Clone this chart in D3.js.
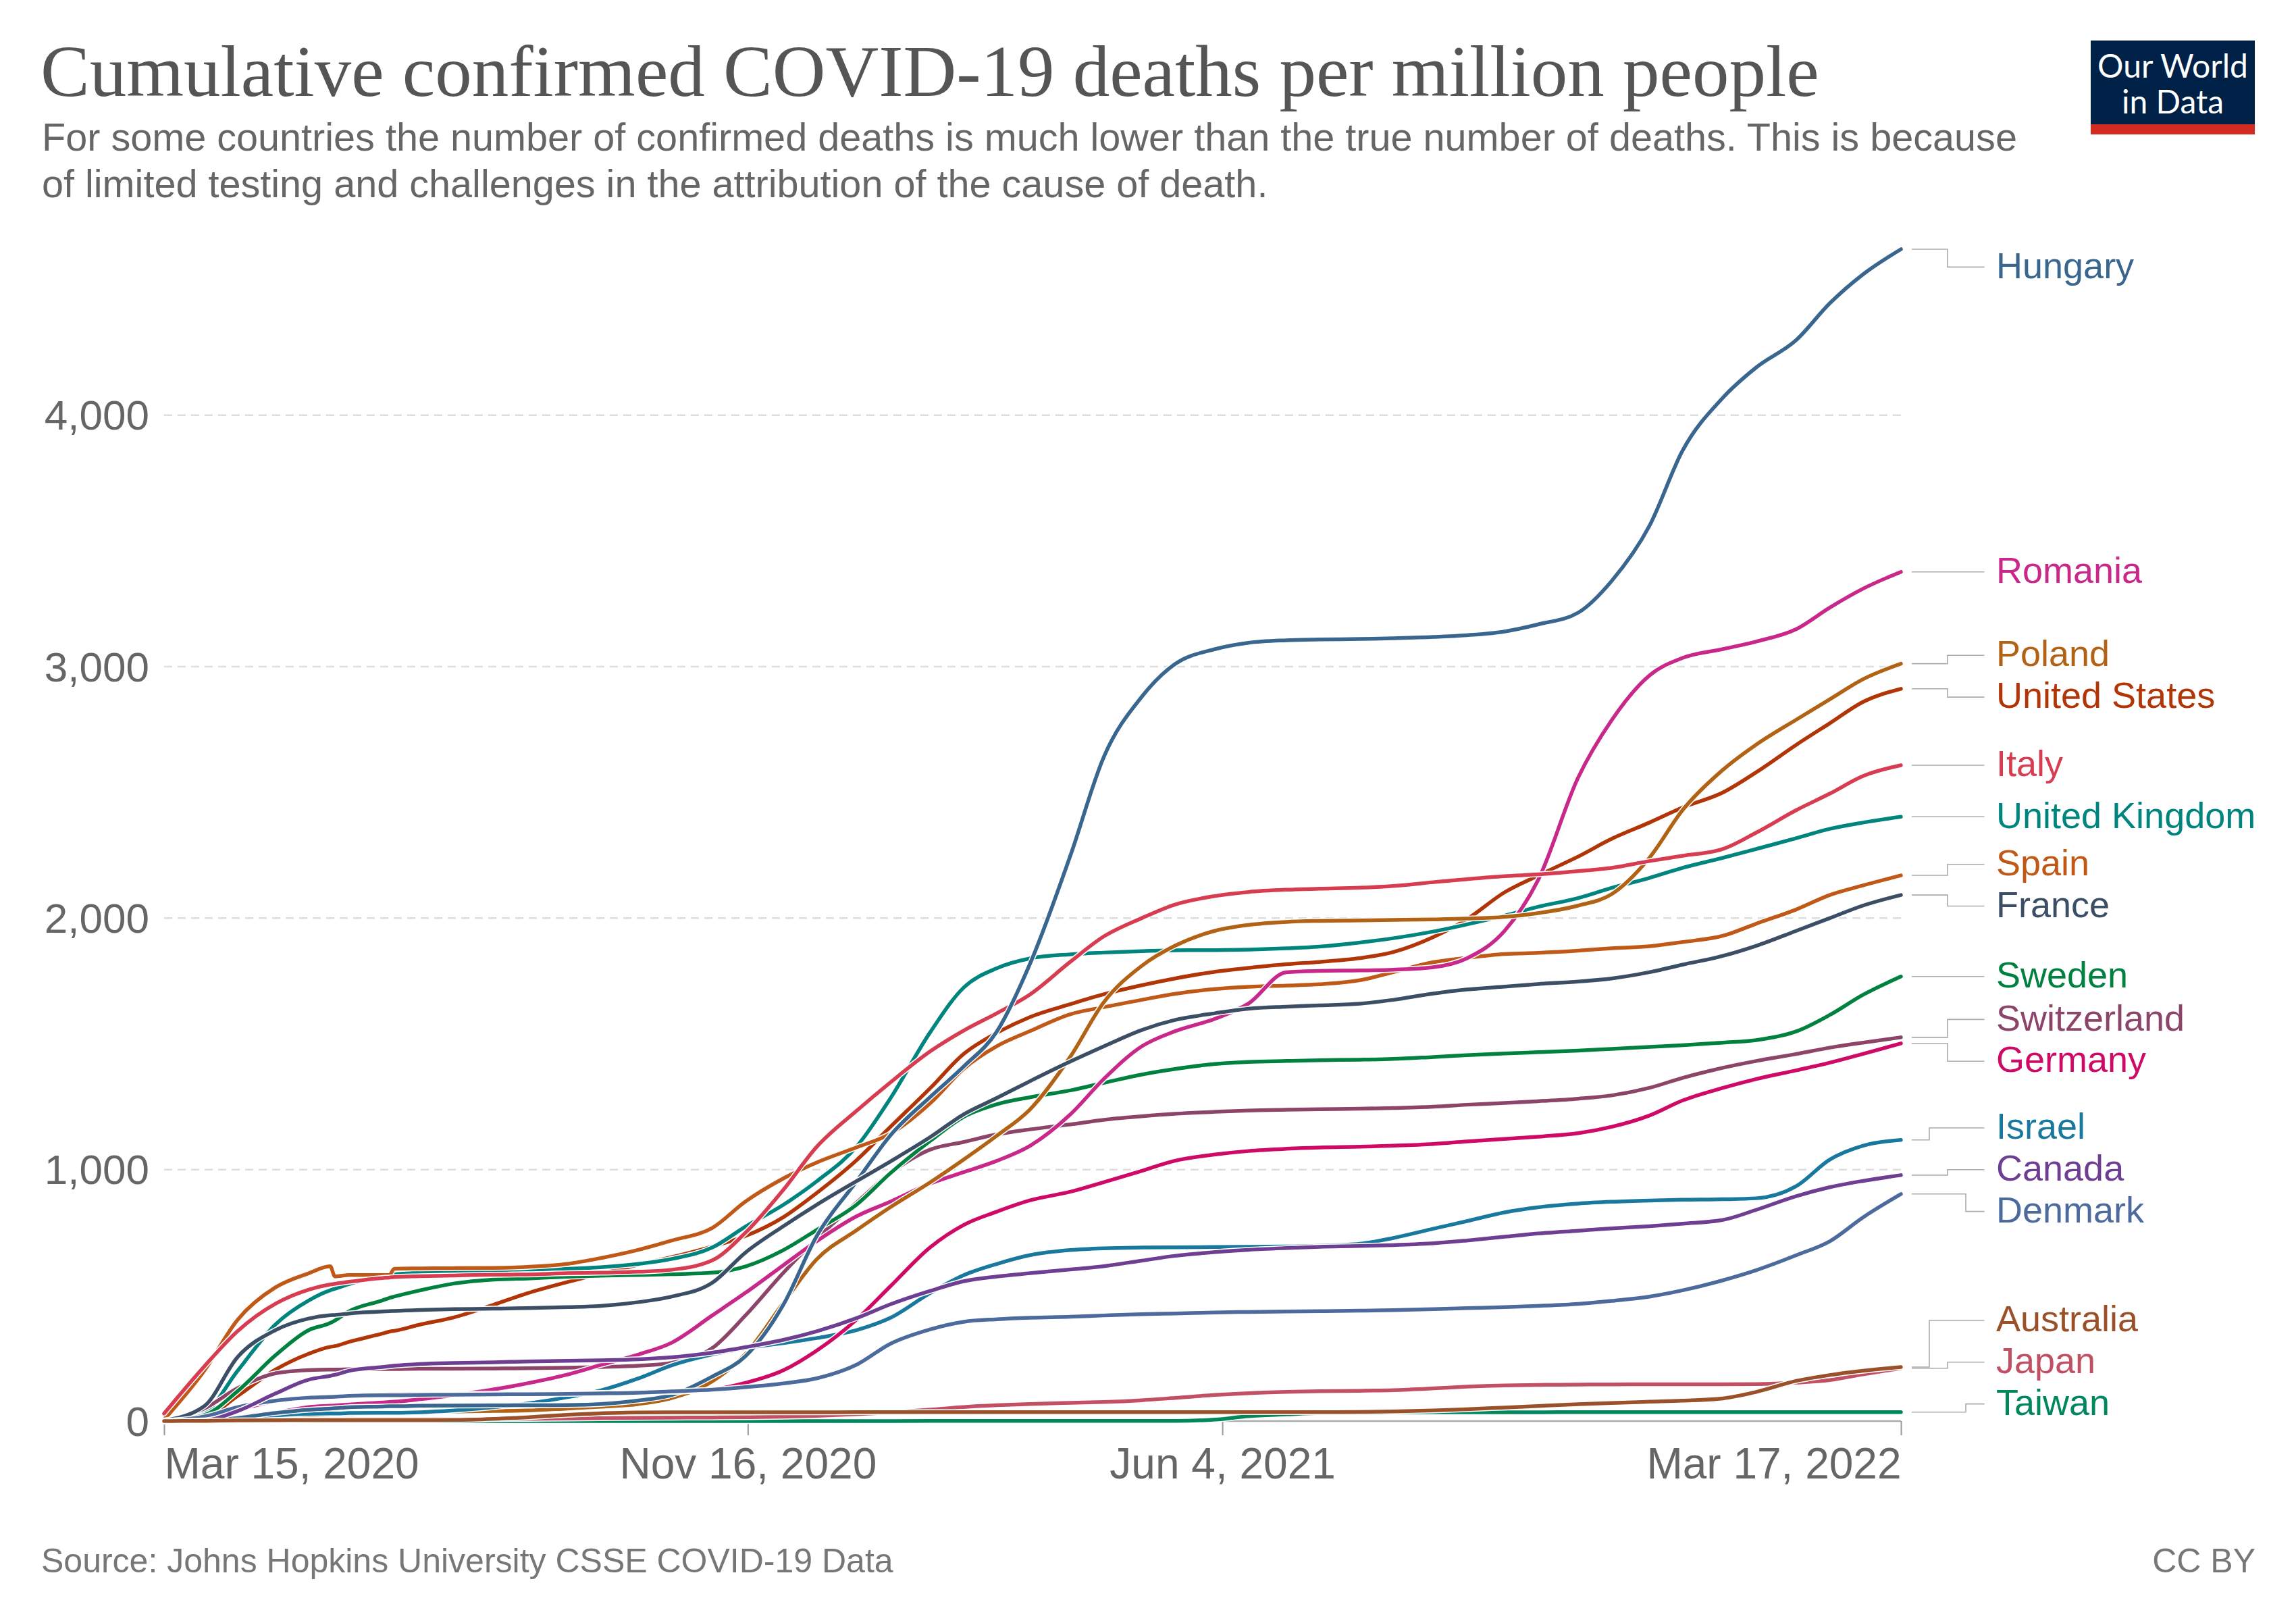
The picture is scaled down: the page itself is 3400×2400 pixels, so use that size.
<!DOCTYPE html>
<html>
<head>
<meta charset="utf-8">
<script src="https://cdn.jsdelivr.net/npm/d3@7"></script>
<style>
  body { margin: 0; background: #fff; }
  svg { display: block; }
</style>
</head>
<body>
<svg id="chart" width="3400" height="2400"></svg>
<script>
// ---------------- DATA ----------------
const dates = [
  "2020-03-15","2020-04-01","2020-04-15","2020-05-01","2020-05-15","2020-05-24","2020-05-26",
  "2020-06-01","2020-06-15","2020-06-18","2020-06-20","2020-07-01","2020-07-15","2020-08-01",
  "2020-08-15","2020-09-01","2020-09-15","2020-10-01","2020-10-15","2020-11-01","2020-11-15",
  "2020-12-01","2020-12-15","2021-01-01","2021-01-15","2021-02-01","2021-02-15","2021-03-01",
  "2021-03-15","2021-04-01","2021-04-15","2021-05-01","2021-05-15","2021-06-01","2021-06-15",
  "2021-07-01","2021-07-15","2021-08-01","2021-08-15","2021-09-01","2021-09-15","2021-10-01",
  "2021-10-15","2021-11-01","2021-11-15","2021-12-01","2021-12-15","2022-01-01","2022-01-15",
  "2022-02-01","2022-02-15","2022-03-01","2022-03-17"
];

const hungary = [0,1.5,12,32,45,50,51,55,58,59,59,61,62,62.5,63,64,68,82,104,177,258,463,735,955,1135,1290,1410,1550,1820,2250,2640,2880,3010,3070,3095,3105,3108,3110,3113,3118,3125,3140,3168,3215,3340,3560,3860,4070,4190,4300,4445,4560,4660];
const romania = [0,4,17,33,56,61,62,66,74,76,77,87,103,126,150,185,223,265,312,420,510,620,715,815,872,945,990,1035,1095,1220,1360,1490,1550,1600,1660,1785,1790,1792,1795,1805,1840,1950,2150,2560,2786,2965,3035,3070,3100,3150,3235,3310,3377];
const poland = [0,1,8,17,23,26,27,28,33,34,35,36,38,40,42,50,57,68,92,158,266,470,643,760,850,950,1040,1135,1240,1450,1665,1810,1890,1950,1973,1985,1989,1991,1993,1995,1998,2005,2020,2050,2095,2240,2430,2590,2690,2790,2870,2950,3012];
const unitedStates = [0.2,15,100,205,268,295,298,315,348,356,359,384,412,463,508,553,586,622,652,694,736,811,907,1039,1169,1325,1460,1544,1607,1658,1697,1733,1760,1787,1802,1817,1826,1841,1865,1925,1995,2103,2169,2245,2315,2380,2440,2500,2580,2690,2775,2860,2912];
const italy = [30,218,358,467,523,543,546,554,569,571,573,576,579,582,583,588,590,594,602,639,749,920,1090,1235,1346,1471,1553,1622,1697,1827,1927,2000,2054,2088,2104,2113,2117,2121,2128,2143,2155,2167,2174,2187,2200,2227,2248,2275,2340,2430,2495,2565,2608];
const unitedKingdom = [1,34,200,385,480,520,526,545,575,580,583,590,595,600,603,606,612,625,645,690,773,860,953,1093,1282,1548,1724,1801,1840,1856,1863,1869,1872,1873,1875,1880,1887,1903,1920,1947,1975,2010,2045,2080,2120,2160,2200,2240,2275,2318,2355,2380,2403];
const spain = [6,201,403,532,588,616,575,581,581,581,606,607,608,609,613,625,648,681,718,768,873,965,1028,1089,1142,1265,1401,1491,1551,1618,1646,1675,1699,1718,1727,1732,1737,1753,1785,1825,1842,1857,1862,1871,1880,1888,1905,1930,1978,2035,2092,2130,2170];
const france = [2,60,255,362,408,421,422,428,436,437,438,442,445,447,449,453,458,473,495,550,670,775,860,955,1032,1130,1220,1285,1352,1430,1490,1555,1595,1622,1640,1648,1653,1660,1675,1700,1716,1728,1738,1748,1760,1785,1815,1850,1890,1950,2000,2050,2092];
const sweden = [0.3,24,119,262,362,390,400,437,480,490,495,520,547,563,567,574,578,581,584,590,615,680,760,862,985,1115,1210,1260,1288,1315,1345,1378,1400,1420,1428,1432,1435,1437,1440,1448,1455,1462,1467,1473,1480,1488,1495,1505,1515,1550,1615,1695,1768];
const switzerland = [1.6,50,131,190,203,205,205,206,207,207,207,208,208,209,210,212,215,220,232,290,420,590,725,870,985,1080,1110,1140,1160,1180,1198,1212,1222,1230,1235,1238,1240,1242,1245,1250,1258,1265,1272,1282,1295,1325,1365,1405,1432,1460,1485,1505,1526];
const germany = [0.2,11,45,80,94,98,99,101,105,106,106,107,108,109,110,111,112,114,116,125,152,202,280,405,535,692,780,833,878,912,950,995,1035,1060,1074,1083,1088,1091,1095,1102,1112,1122,1131,1145,1170,1215,1275,1325,1360,1395,1425,1460,1502];
const israel = [0,2,14,23,29,30,30,32,33,33,33,35,42,55,70,95,122,170,222,265,290,310,330,362,410,510,580,625,660,680,687,690,691,692,693,694,697,705,728,765,795,830,850,865,872,877,880,882,886,935,1040,1095,1118];
const canada = [0.03,3,40,110,165,180,184,200,215,218,220,227,231,234,237,240,242,246,254,272,294,323,357,410,464,518,556,575,588,603,616,638,657,672,681,688,693,696,700,707,718,733,746,757,766,775,785,800,840,895,930,955,978];
const denmark = [0.2,18,55,81,93,96,97,100,103,103,103,104,105,106,107,108,110,113,118,125,135,150,170,225,307,365,395,405,411,415,420,425,428,432,434,436,437,439,441,445,449,453,458,466,478,495,520,560,600,660,715,810,903];
const australia = [0.2,0.8,2.5,3.6,3.8,4,4,4,4,4,4,4.2,4.5,8.7,15,25,31,34,35,35.1,35.2,35.2,35.2,35.3,35.3,35.3,35.3,35.3,35.3,35.3,35.3,35.4,35.4,35.4,35.5,35.6,35.7,36.4,38,42,47,54,60,67,72,77,81,90,116,160,183,200,215];
const japan = [0.2,0.5,0.9,3.4,5.5,6.5,6.7,7.2,7.4,7.5,7.5,7.7,7.9,8.1,8.8,10.3,11.7,12.8,13.5,14.3,15.2,17.5,20.9,27.5,34.5,45.5,55.8,62.8,67.9,72.5,75.9,82.8,92,104,111,116,119,120.5,123,130,137,142,144,145,146,146.3,146.5,146.7,147.3,153,163,186,210];
const taiwan = [0.04,0.2,0.25,0.25,
  0.29,0.29,0.29,0.29,0.29,0.29,0.29,0.29,0.29,0.29,0.29,0.29,0.29,0.29,0.29,0.29,0.29,0.29,0.29,0.29,0.29,
  0.38,0.38,0.42,0.42,0.42,0.46,0.5,0.6,6,19.5,26.6,32,33.5,34.3,34.7,35,35.1,35.2,35.3,35.3,35.4,35.4,35.4,35.5,35.5,35.6,35.6,35.7];

const countries = ["Hungary","Romania","Poland","United States","Italy","United Kingdom","Spain","France",
  "Sweden","Switzerland","Germany","Israel","Canada","Denmark","Australia","Japan","Taiwan"];
const seriesValues = [hungary, romania, poland, unitedStates, italy, unitedKingdom, spain, france,
  sweden, switzerland, germany, israel, canada, denmark, australia, japan, taiwan];
const colors = ["#38668f","#c8288a","#b16214","#b13507","#d73c50","#00847e","#c05917","#3c4e66",
  "#00813f","#8c4569","#cf0a66","#18789d","#6d3e91","#4c6a9c","#9a5129","#c15065","#00875e"];

const yTickValues = [0, 1000, 2000, 3000, 4000];
const xTickDates = ["2020-03-15", "2020-11-16", "2021-06-04", "2022-03-17"];

const titleText = "Cumulative confirmed COVID-19 deaths per million people";
const subtitleLines = [
  "For some countries the number of confirmed deaths is much lower than the true number of deaths. This is because",
  "of limited testing and challenges in the attribution of the cause of death."
];
const sourceText = "Source: Johns Hopkins University CSSE COVID-19 Data";
const licenseText = "CC BY";

// ---------------- DRAWING ----------------
seriesValues.forEach((s, i) => {
  if (s.length !== dates.length) throw new Error(countries[i] + " has " + s.length + " values, expected " + dates.length);
});

const svg = d3.select("#chart");
const parse = d3.utcParse("%Y-%m-%d");
const parsedDates = dates.map(parse);

const plot = { left: 243, right: 2815, top: 369, bottom: 2104 };
const maxVal = d3.max(seriesValues, s => d3.max(s));

const x = d3.scaleUtc()
  .domain(d3.extent(parsedDates))
  .range([plot.left, plot.right]);
const y = d3.scaleLinear()
  .domain([0, maxVal])
  .range([plot.bottom, plot.top]);

const sans = "'Liberation Sans', Arial, Helvetica, sans-serif";

// Title
const title = svg.append("text")
  .attr("x", 60).attr("y", 142)
  .attr("font-family", "'Liberation Serif', 'Times New Roman', serif")
  .attr("font-size", 100)
  .attr("fill", "#555")
  .text(titleText);
{
  const len = title.node().getComputedTextLength();
  title.attr("font-size", 100 * 2634 / len);
}

// Subtitle
const sub = svg.append("g").attr("font-family", sans).attr("fill", "#666");
subtitleLines.forEach((line, i) => {
  sub.append("text").attr("x", 62).attr("y", 223 + i * 69).attr("font-size", 57.6).text(line);
});

// Logo
const logo = svg.append("g");
logo.append("rect").attr("x", 3096).attr("y", 60).attr("width", 243).attr("height", 124).attr("fill", "#002147");
logo.append("rect").attr("x", 3096).attr("y", 184).attr("width", 243).attr("height", 15).attr("fill", "#d42b21");
logo.append("text").attr("x", 3217.5).attr("y", 115).attr("text-anchor", "middle")
  .attr("font-family", "Lato, 'Open Sans', sans-serif").attr("font-size", 48).attr("fill", "#fff").text("Our World");
logo.append("text").attr("x", 3217.5).attr("y", 168).attr("text-anchor", "middle")
  .attr("font-family", "Lato, 'Open Sans', sans-serif").attr("font-size", 48).attr("fill", "#fff").text("in Data");

// Grid lines
svg.append("g").selectAll("line")
  .data(yTickValues.filter(v => v > 0))
  .join("line")
  .attr("x1", plot.left).attr("x2", plot.right)
  .attr("y1", d => y(d)).attr("y2", d => y(d))
  .attr("stroke", "#dddddd").attr("stroke-width", 2.5)
  .attr("stroke-dasharray", "12,8");

// Y axis labels
const yAxis = d3.axisLeft(y).tickValues(yTickValues).tickSize(0).tickPadding(22).tickFormat(d3.format(","));
const gy = svg.append("g").attr("transform", `translate(${plot.left},0)`).call(yAxis);
gy.select(".domain").remove();
gy.selectAll("text").attr("font-family", sans).attr("font-size", 62).attr("fill", "#666").attr("dy", "0.34em");

// X axis
const fmt = d3.utcFormat("%b %-d, %Y");
const xAxis = d3.axisBottom(x).tickValues(xTickDates.map(parse)).tickSize(21).tickPadding(19).tickFormat(fmt);
const gx = svg.append("g").attr("transform", `translate(0,${plot.bottom})`).call(xAxis);
gx.select(".domain").attr("stroke", "#aaa").attr("stroke-width", 2.5).attr("d", `M${plot.left},0H${plot.right}`);
gx.selectAll(".tick line").attr("stroke", "#999").attr("stroke-width", 2);
gx.selectAll("text").attr("font-family", sans).attr("font-size", 64).attr("fill", "#666")
  .attr("text-anchor", (d, i, n) => i === 0 ? "start" : (i === n.length - 1 ? "end" : "middle"));

// Lines (drawn in reverse alphabetical order, each with white halo)
const lineGen = d3.line()
  .x(d => x(d.date))
  .y(d => y(d.v))
  .curve(d3.curveMonotoneX);

const series = countries.map((name, i) => ({
  name, color: colors[i],
  points: seriesValues[i].map((v, j) => ({ date: parsedDates[j], v }))
}));
const drawOrder = series.slice().sort((a, b) => d3.descending(a.name, b.name));
const gLines = svg.append("g");
drawOrder.forEach(s => {
  gLines.append("path").attr("d", lineGen(s.points)).attr("fill", "none")
    .attr("stroke", "#fff").attr("stroke-width", 8.5).attr("stroke-linejoin", "round").attr("stroke-linecap", "round");
  gLines.append("path").attr("d", lineGen(s.points)).attr("fill", "none")
    .attr("stroke", s.color).attr("stroke-width", 5.5).attr("stroke-linejoin", "round").attr("stroke-linecap", "round");
});

// Legend label layout
const labelH = 61.8;
const minC = plot.top + 26.4, maxC = plot.bottom - 25.4;
const items = series.map(s => ({ name: s.name, color: s.color, yEnd: y(s.points[s.points.length - 1].v) }))
  .sort((a, b) => a.yEnd - b.yEnd);
let groups = items.map(it => [it]);
const groupCenter = g => {
  const m = d3.mean(g, d => d.yEnd);
  const half = (g.length - 1) / 2 * labelH;
  return Math.max(minC + half, Math.min(maxC - half, m));
};
let merged = true;
while (merged) {
  merged = false;
  for (let i = 0; i < groups.length - 1; i++) {
    const a = groups[i], b = groups[i + 1];
    const aBottom = groupCenter(a) + (a.length - 1) / 2 * labelH;
    const bTop = groupCenter(b) - (b.length - 1) / 2 * labelH;
    if (bTop - aBottom < labelH - 0.01) {
      groups.splice(i, 2, a.concat(b));
      merged = true;
      break;
    }
  }
}
groups.forEach(g => {
  const c = groupCenter(g);
  g.forEach((it, k) => {
    it.labelY = c + (k - (g.length - 1) / 2) * labelH;
    it.midX = g.length >= 3 ? 2884 + (k - (g.length - 1) / 2) * 27 : 2884;
  });
});

const gLeg = svg.append("g");
items.forEach(it => {
  const x0 = plot.right + 16, x1 = 2938.5;
  const d = Math.abs(it.labelY - it.yEnd) < 0.5
    ? `M${x0},${it.yEnd}H${x1}`
    : `M${x0},${it.yEnd}H${it.midX}V${it.labelY}H${x1}`;
  gLeg.append("path").attr("d", d).attr("fill", "none").attr("stroke", "#aaa").attr("stroke-width", 1.6);
  gLeg.append("text").attr("x", 2956).attr("y", it.labelY).attr("dy", "0.3em")
    .attr("font-family", sans).attr("font-size", 54).attr("fill", it.color).text(it.name);
});

// Footer
svg.append("text").attr("x", 61).attr("y", 2328).attr("font-family", sans).attr("font-size", 50)
  .attr("fill", "#777").text(sourceText);
svg.append("text").attr("x", 3340).attr("y", 2328).attr("text-anchor", "end").attr("font-family", sans)
  .attr("font-size", 50).attr("fill", "#777").text(licenseText);
</script>
</body>
</html>
